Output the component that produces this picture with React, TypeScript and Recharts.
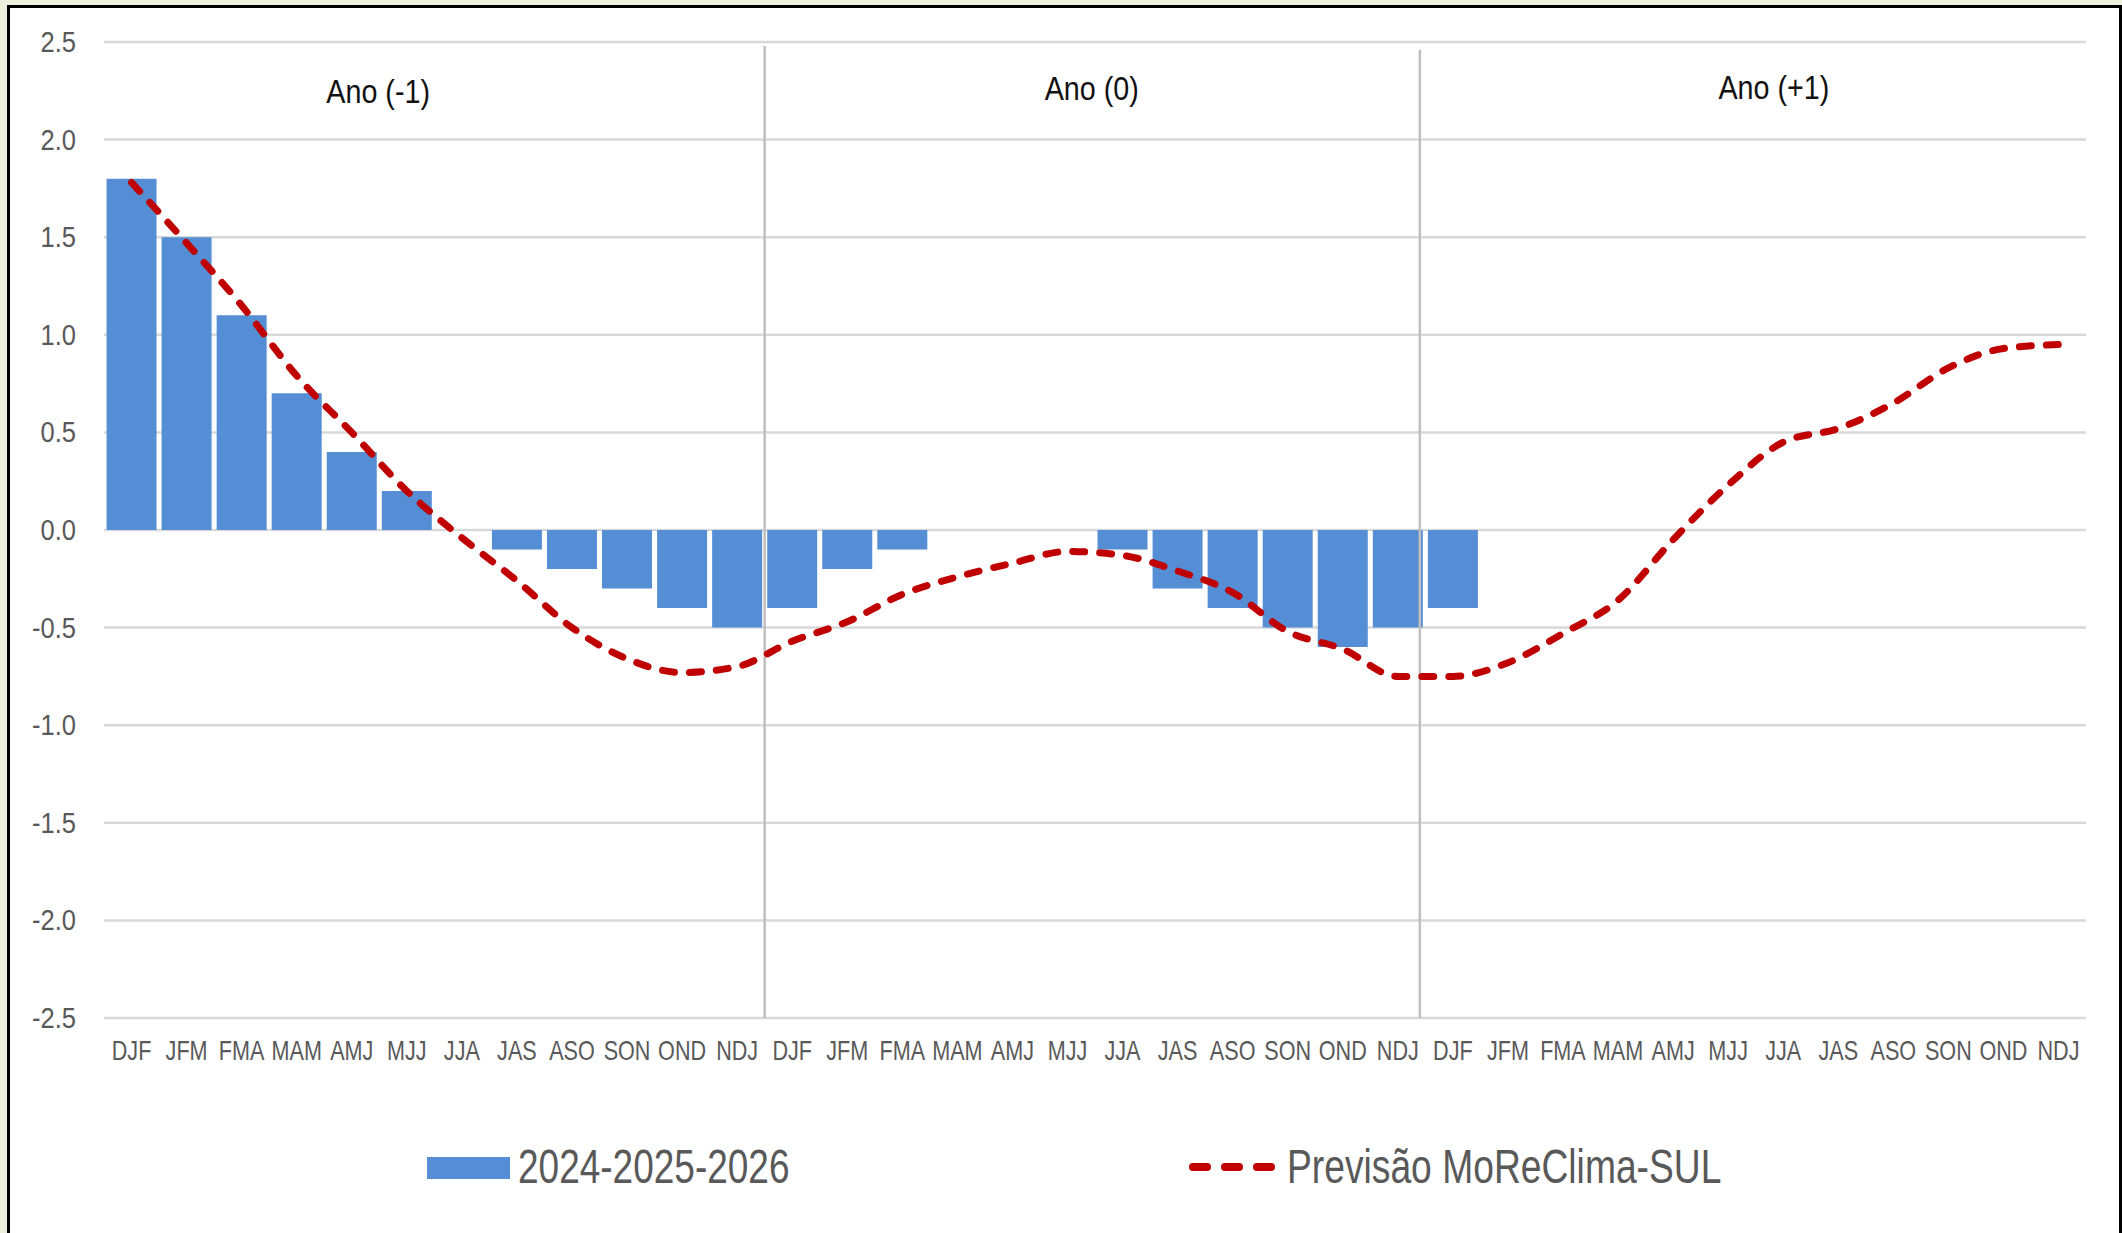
import { Bar, CartesianGrid, ComposedChart, Line, ReferenceDot, ReferenceLine, XAxis, YAxis } from 'recharts'

const seasons = [
    'DJF', 'JFM', 'FMA', 'MAM', 'AMJ', 'MJJ', 'JJA', 'JAS', 'ASO', 'SON', 'OND', 'NDJ',
    'DJF', 'JFM', 'FMA', 'MAM', 'AMJ', 'MJJ', 'JJA', 'JAS', 'ASO', 'SON', 'OND', 'NDJ',
    'DJF', 'JFM', 'FMA', 'MAM', 'AMJ', 'MJJ', 'JJA', 'JAS', 'ASO', 'SON', 'OND', 'NDJ',
]

// observed index (bars)
const observed = [
    1.8, 1.5, 1.1, 0.7, 0.4, 0.2, null, -0.1, -0.2, -0.3, -0.4, -0.5,
    -0.4, -0.2, -0.1, null, null, null, -0.1, -0.3, -0.4, -0.5, -0.6, -0.5,
    -0.4, null, null, null, null, null, null, null, null, null, null, null,
]

// forecast (dashed line)
const forecast = [
    1.78, 1.47, 1.15, 0.79, 0.5, 0.2, -0.04, -0.26, -0.5, -0.66, -0.73, -0.7,
    -0.57, -0.47, -0.33, -0.24, -0.17, -0.11, -0.13, -0.21, -0.32, -0.52, -0.61, -0.75,
    -0.75, -0.68, -0.53, -0.36, -0.05, 0.23, 0.45, 0.52, 0.65, 0.83, 0.93, 0.95,
]

const yTicks = [2.5, 2.0, 1.5, 1.0, 0.5, 0.0, -0.5, -1.0, -1.5, -2.0, -2.5]

const yearLabels = ['Ano (-1)', 'Ano (0)', 'Ano (+1)']
const yearLabelX = [4.98, 17.94, 30.33]
const yearLabelY = [2.25, 2.265, 2.268]

const dividerX = [12, 23.9]
const dividerTop = [2.48, 2.46]

const legendNames = ['2024-2025-2026', 'Previsão MoReClima-SUL']

// pos = centre of each season slot on a 0..36 numeric scale
const data = seasons.map((s, i) => ({ idx: i, pos: i + 0.5, season: s, observed: observed[i], forecast: forecast[i] }))

const FONT = '"Liberation Sans", Arial, sans-serif'
const BLUE = '#558ED5'
const RED = '#C00000'

const XTick = (props: any) => {
    const { x, y, payload } = props
    return (
        <text transform={`translate(${x},${y + 42}) scale(0.8,1)`} textAnchor="middle" fontSize={27} fill="#595959" fontFamily={FONT}>
            {seasons[payload.value]}
        </text>
    )
}

const YTick = (props: any) => {
    const { x, y, payload } = props
    return (
        <text transform={`translate(${x},${y + 10}) scale(0.85,1)`} textAnchor="end" fontSize={30} fill="#595959" fontFamily={FONT}>
            {Number(payload.value).toFixed(1)}
        </text>
    )
}

const YearText = ({ cx, cy, text }: any) => (
    <text transform={`translate(${cx},${cy + 12}) scale(0.87,1)`} textAnchor="middle" fontSize={33} fill="#111" fontFamily={FONT}>
        {text}
    </text>
)

const App = () => {
    return (
        <div style={{ position: 'absolute', top: 0, left: 0, width: 2122, height: 1233, background: '#EBF1DE', overflow: 'hidden' }}>
            <div style={{ position: 'absolute', left: 7, top: 5, width: 2115, height: 1260, border: '3px solid #000', background: '#fff', boxSizing: 'border-box' }} />
            <div style={{ position: 'absolute', left: 0, top: 0 }}>
                <ComposedChart width={2122} height={1233} data={data} margin={{ top: 42, right: 36, left: 4, bottom: 155 }} barCategoryGap="4.6%">
                    <CartesianGrid vertical={false} stroke="#D9D9D9" strokeWidth={2.5} />
                    <XAxis dataKey="idx" type="category" height={60} axisLine={false} tickLine={false} tickSize={0} tickMargin={0} interval={0} tick={<XTick />} />
                    <XAxis xAxisId="n" dataKey="pos" type="number" domain={[0, 36]} allowDataOverflow hide />
                    <YAxis width={100} domain={[-2.5, 2.5]} ticks={yTicks} axisLine={false} tickLine={false} tickSize={0} tickMargin={28} interval={0} tick={<YTick />} />
                    <Bar dataKey="observed" name={legendNames[0]} fill={BLUE} isAnimationActive={false} />
                    {dividerX.map((dx, i) => (
                        <ReferenceLine key={i} xAxisId="n" segment={[{ x: dx, y: dividerTop[i] }, { x: dx, y: -2.5 }]} stroke="#BFBFBF" strokeWidth={2.5} />
                    ))}
                    <Line type="monotone" dataKey="forecast" name={legendNames[1]} stroke={RED} strokeWidth={7} strokeDasharray="12 15" strokeLinecap="round" dot={false} activeDot={false} isAnimationActive={false} />
                    {yearLabels.map((t, i) => (
                        <ReferenceDot key={t} xAxisId="n" x={yearLabelX[i]} y={yearLabelY[i]} r={0} shape={(p: any) => <YearText cx={p.cx} cy={p.cy} text={t} />} />
                    ))}
                </ComposedChart>
            </div>
            <svg width={2122} height={1233} style={{ position: 'absolute', left: 0, top: 0, pointerEvents: 'none' }}>
                <rect x={427} y={1157} width={83} height={22} fill={BLUE} />
                <text transform="translate(518,1183) scale(0.755,1)" fontSize={49} fill="#595959" fontFamily={FONT}>{legendNames[0]}</text>
                <line x1={1193} y1={1167} x2={1272} y2={1167} stroke={RED} strokeWidth={8} strokeDasharray="14 18" strokeLinecap="round" />
                <text transform="translate(1287,1183) scale(0.76,1)" fontSize={49} fill="#595959" fontFamily={FONT}>{legendNames[1]}</text>
            </svg>
        </div>
    )
}

export default App
